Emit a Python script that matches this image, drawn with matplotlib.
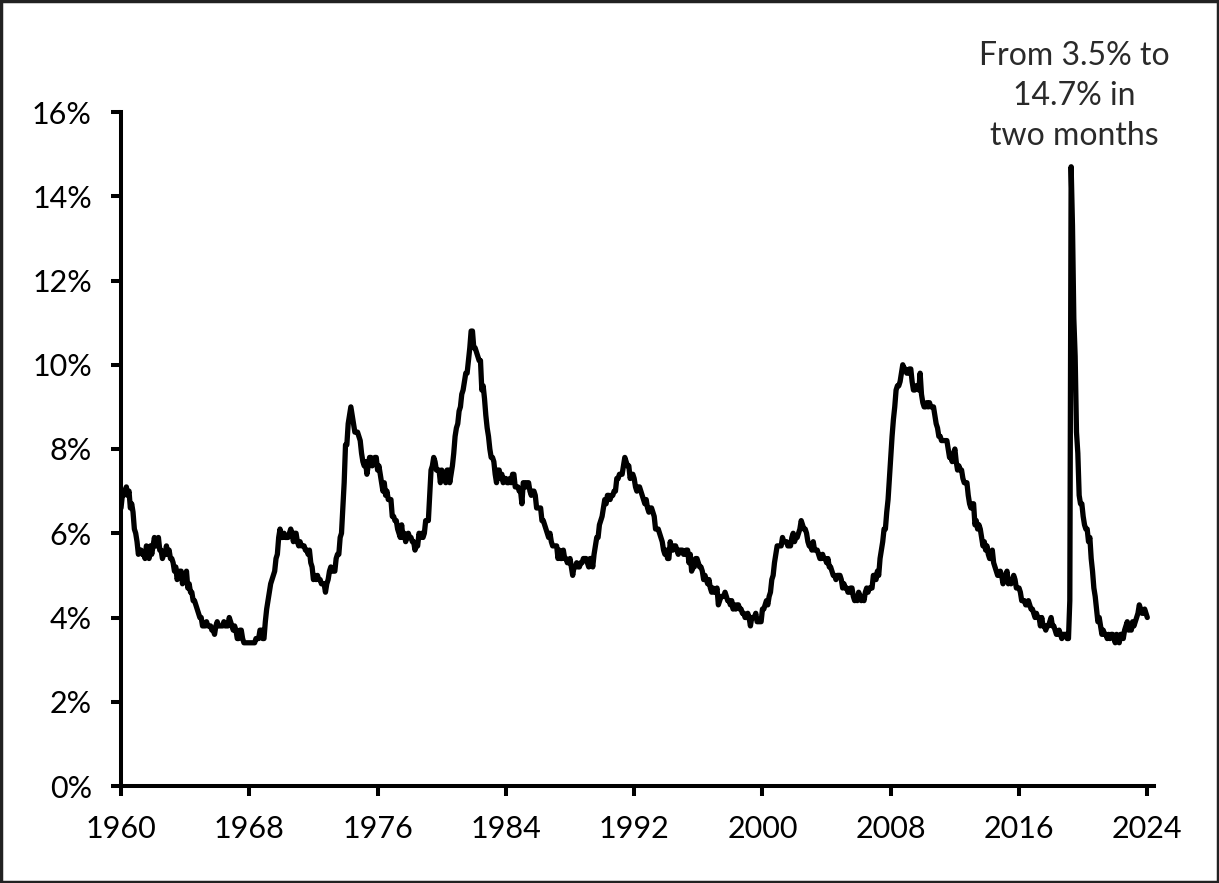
import numpy as np
import matplotlib.pyplot as plt
from matplotlib.patches import Rectangle

# monthly unemployment rate (%), first point sits on the 1960 tick
unemployment_rate = [
    6.6, 6.9, 6.9, 7.0, 7.1, 6.9, 7.0, 6.6, 6.7, 6.5, 6.1, 6.0,
    5.8, 5.5, 5.6, 5.6, 5.5, 5.5, 5.4, 5.7, 5.6, 5.4, 5.7, 5.5,
    5.7, 5.9, 5.7, 5.7, 5.9, 5.6, 5.6, 5.4, 5.5, 5.5, 5.7, 5.5,
    5.6, 5.4, 5.4, 5.3, 5.1, 5.2, 4.9, 5.0, 5.1, 5.1, 4.8, 5.0,
    4.9, 5.1, 4.7, 4.8, 4.6, 4.6, 4.4, 4.4, 4.3, 4.2, 4.1, 4.0,
    4.0, 3.8, 3.8, 3.8, 3.9, 3.8, 3.8, 3.8, 3.7, 3.7, 3.6, 3.8,
    3.9, 3.8, 3.8, 3.8, 3.8, 3.9, 3.8, 3.8, 3.8, 4.0, 3.9, 3.8,
    3.7, 3.8, 3.7, 3.5, 3.5, 3.7, 3.7, 3.5, 3.4, 3.4, 3.4, 3.4,
    3.4, 3.4, 3.4, 3.4, 3.4, 3.5, 3.5, 3.5, 3.7, 3.7, 3.5, 3.5,
    3.9, 4.2, 4.4, 4.6, 4.8, 4.9, 5.0, 5.1, 5.4, 5.5, 5.9, 6.1,
    5.9, 5.9, 6.0, 5.9, 5.9, 5.9, 6.0, 6.1, 6.0, 5.8, 6.0, 6.0,
    5.8, 5.7, 5.8, 5.7, 5.7, 5.7, 5.6, 5.6, 5.5, 5.6, 5.3, 5.2,
    4.9, 5.0, 4.9, 5.0, 4.9, 4.9, 4.8, 4.8, 4.8, 4.6, 4.8, 4.9,
    5.1, 5.2, 5.1, 5.1, 5.1, 5.4, 5.5, 5.5, 5.9, 6.0, 6.6, 7.2,
    8.1, 8.1, 8.6, 8.8, 9.0, 8.8, 8.6, 8.4, 8.4, 8.4, 8.3, 8.2,
    7.9, 7.7, 7.6, 7.7, 7.4, 7.6, 7.8, 7.8, 7.6, 7.7, 7.8, 7.8,
    7.5, 7.6, 7.4, 7.2, 7.0, 7.2, 6.9, 7.0, 6.8, 6.8, 6.8, 6.4,
    6.4, 6.3, 6.3, 6.1, 6.0, 5.9, 6.2, 5.9, 6.0, 5.8, 5.9, 6.0,
    5.9, 5.9, 5.8, 5.8, 5.6, 5.7, 5.7, 6.0, 5.9, 6.0, 5.9, 6.0,
    6.3, 6.3, 6.3, 6.9, 7.5, 7.6, 7.8, 7.7, 7.5, 7.5, 7.5, 7.2,
    7.5, 7.4, 7.4, 7.2, 7.5, 7.5, 7.2, 7.4, 7.6, 7.9, 8.3, 8.5,
    8.6, 8.9, 9.0, 9.3, 9.4, 9.6, 9.8, 9.8, 10.1, 10.4, 10.8, 10.8,
    10.4, 10.4, 10.3, 10.2, 10.1, 10.1, 9.4, 9.5, 9.2, 8.8, 8.5, 8.3,
    8.0, 7.8, 7.8, 7.7, 7.4, 7.2, 7.5, 7.5, 7.3, 7.4, 7.2, 7.3,
    7.3, 7.2, 7.2, 7.3, 7.2, 7.4, 7.4, 7.1, 7.1, 7.1, 7.0, 7.0,
    6.7, 7.2, 7.2, 7.1, 7.2, 7.2, 7.0, 6.9, 7.0, 7.0, 6.9, 6.6,
    6.6, 6.6, 6.6, 6.3, 6.3, 6.2, 6.1, 6.0, 5.9, 6.0, 5.8, 5.7,
    5.7, 5.7, 5.7, 5.4, 5.6, 5.4, 5.4, 5.6, 5.4, 5.4, 5.3, 5.3,
    5.4, 5.2, 5.0, 5.2, 5.2, 5.3, 5.2, 5.2, 5.3, 5.3, 5.4, 5.4,
    5.4, 5.3, 5.2, 5.4, 5.4, 5.2, 5.5, 5.7, 5.9, 5.9, 6.2, 6.3,
    6.4, 6.6, 6.8, 6.7, 6.9, 6.9, 6.8, 6.9, 6.9, 7.0, 7.0, 7.3,
    7.3, 7.4, 7.4, 7.4, 7.6, 7.8, 7.7, 7.6, 7.6, 7.3, 7.4, 7.4,
    7.3, 7.1, 7.0, 7.1, 7.1, 7.0, 6.9, 6.8, 6.7, 6.8, 6.6, 6.5,
    6.6, 6.6, 6.5, 6.4, 6.1, 6.1, 6.1, 6.0, 5.9, 5.8, 5.6, 5.5,
    5.6, 5.4, 5.4, 5.8, 5.6, 5.6, 5.7, 5.7, 5.6, 5.5, 5.6, 5.6,
    5.6, 5.5, 5.5, 5.6, 5.6, 5.3, 5.5, 5.1, 5.2, 5.2, 5.4, 5.4,
    5.3, 5.2, 5.2, 5.1, 4.9, 5.0, 4.9, 4.8, 4.9, 4.7, 4.6, 4.7,
    4.6, 4.6, 4.7, 4.3, 4.4, 4.5, 4.5, 4.5, 4.6, 4.5, 4.4, 4.4,
    4.3, 4.4, 4.2, 4.3, 4.2, 4.3, 4.3, 4.2, 4.2, 4.1, 4.1, 4.0,
    4.0, 4.1, 4.0, 3.8, 4.0, 4.0, 4.0, 4.1, 3.9, 3.9, 3.9, 3.9,
    4.2, 4.2, 4.3, 4.4, 4.3, 4.5, 4.6, 4.9, 5.0, 5.3, 5.5, 5.7,
    5.7, 5.7, 5.7, 5.9, 5.8, 5.8, 5.8, 5.7, 5.7, 5.7, 5.9, 6.0,
    5.8, 5.9, 5.9, 6.0, 6.1, 6.3, 6.2, 6.1, 6.1, 6.0, 5.8, 5.7,
    5.7, 5.6, 5.8, 5.6, 5.6, 5.6, 5.5, 5.4, 5.4, 5.5, 5.4, 5.4,
    5.3, 5.4, 5.2, 5.2, 5.1, 5.0, 5.0, 4.9, 5.0, 5.0, 5.0, 4.9,
    4.7, 4.8, 4.7, 4.7, 4.6, 4.6, 4.7, 4.7, 4.5, 4.4, 4.5, 4.4,
    4.6, 4.5, 4.4, 4.5, 4.4, 4.6, 4.7, 4.6, 4.7, 4.7, 4.7, 5.0,
    5.0, 4.9, 5.1, 5.0, 5.4, 5.6, 5.8, 6.1, 6.1, 6.5, 6.8, 7.3,
    7.8, 8.3, 8.7, 9.0, 9.4, 9.5, 9.5, 9.6, 9.8, 10.0, 9.9, 9.9,
    9.8, 9.8, 9.9, 9.9, 9.6, 9.4, 9.4, 9.5, 9.5, 9.4, 9.8, 9.3,
    9.1, 9.0, 9.0, 9.1, 9.0, 9.1, 9.0, 9.0, 9.0, 8.8, 8.6, 8.5,
    8.3, 8.3, 8.2, 8.2, 8.2, 8.2, 8.2, 8.0, 7.8, 7.8, 7.7, 7.9,
    8.0, 7.7, 7.5, 7.6, 7.5, 7.5, 7.3, 7.2, 7.2, 7.2, 6.9, 6.7,
    6.6, 6.7, 6.7, 6.2, 6.3, 6.1, 6.2, 6.1, 5.9, 5.7, 5.8, 5.6,
    5.7, 5.5, 5.4, 5.4, 5.6, 5.3, 5.2, 5.1, 5.0, 5.0, 5.1, 5.0,
    4.8, 4.9, 5.0, 5.1, 4.8, 4.9, 4.8, 4.9, 5.0, 4.9, 4.7, 4.7,
    4.7, 4.6, 4.4, 4.4, 4.4, 4.3, 4.3, 4.4, 4.3, 4.2, 4.2, 4.1,
    4.0, 4.1, 4.0, 4.0, 3.8, 4.0, 3.8, 3.8, 3.7, 3.8, 3.8, 3.9,
    4.0, 3.8, 3.8, 3.7, 3.6, 3.6, 3.7, 3.6, 3.5, 3.6, 3.6, 3.6,
    3.5, 3.5, 4.4, 14.7, 13.3, 11.1, 10.2, 8.4, 7.9, 6.9, 6.7, 6.7,
    6.4, 6.2, 6.1, 6.1, 5.8, 5.9, 5.4, 5.1, 4.7, 4.5, 4.2, 3.9,
    4.0, 3.8, 3.6, 3.7, 3.6, 3.6, 3.5, 3.6, 3.5, 3.6, 3.6, 3.5,
    3.4, 3.6, 3.5, 3.4, 3.6, 3.6, 3.5, 3.7, 3.8, 3.9, 3.7, 3.8,
    3.7, 3.9, 3.8, 3.9, 4.0, 4.1, 4.3, 4.2, 4.1, 4.1, 4.2, 4.1,
    4.0,
]

tick_years = [1960, 1968, 1976, 1984, 1992, 2000, 2008, 2016, 2024]
y_ticks = [0, 2, 4, 6, 8, 10, 12, 14, 16]
note_text = 'From 3.5% to\n14.7% in\ntwo months'

plt.rcParams['font.family'] = ['Lato', 'DejaVu Sans']

fig = plt.figure(figsize=(12.19, 8.83), dpi=100)
ax = fig.add_axes([121 / 1219, 1 - 786 / 883, (1154 - 121) / 1219, (786 - 112) / 883])

months = np.arange(len(unemployment_rate))
ax.plot(months, unemployment_rate, color='black', linewidth=3.8,
        solid_joinstyle='round', solid_capstyle='round')

ax.set_xlim(0, 773)
ax.set_ylim(0, 16)
ax.set_xticks([(yr - tick_years[0]) * 12 for yr in tick_years])
ax.set_xticklabels([str(yr) for yr in tick_years])
ax.set_yticks(y_ticks)
ax.set_yticklabels([f'{v}%' for v in y_ticks])

for side in ['top', 'right']:
    ax.spines[side].set_visible(False)
for side in ['left', 'bottom']:
    ax.spines[side].set_linewidth(2.9)
ax.tick_params(axis='both', length=7, width=2.9, labelsize=22, color='black')
ax.tick_params(axis='y', pad=14)
ax.tick_params(axis='x', pad=14)

ax.text(1074 / 1219, 1 - 96 / 883, note_text, transform=fig.transFigure,
        ha='center', va='center', fontsize=23, fontweight='normal',
        color='#2a2a2a', linespacing=1.4)

fig.patches.append(Rectangle((0.001, 0.001), 0.998, 0.998, transform=fig.transFigure,
                             fill=False, edgecolor='#222222', linewidth=2.5))

fig.savefig('out.png', dpi=100)
